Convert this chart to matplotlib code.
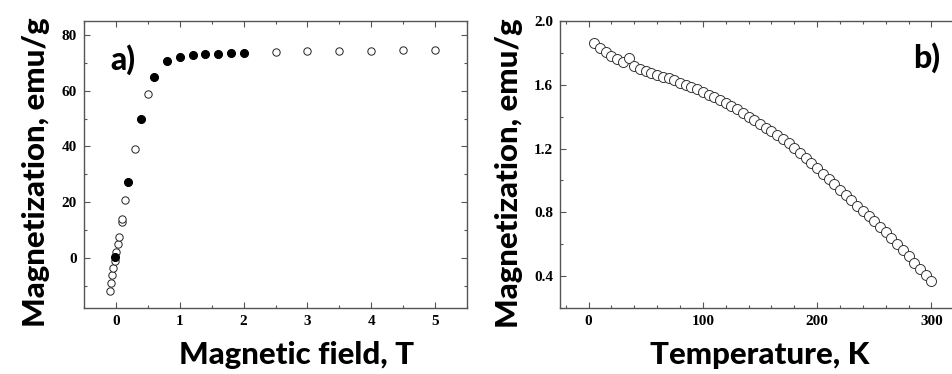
import numpy as np
import matplotlib
matplotlib.use('Agg')
import matplotlib.pyplot as plt
from matplotlib.ticker import MultipleLocator

# Panel a: magnetization vs field (open and filled points)
field_open = [-0.10, -0.08, -0.06, -0.04, -0.02, 0.00, 0.03, 0.05, 0.09, 0.10,
              0.15, 0.30, 0.50, 2.5, 3.0, 3.5, 4.0, 4.5, 5.0]
mag_open = [-12.0, -9.1, -6.2, -3.5, -1.0, 2.1, 4.8, 7.5, 13.0, 14.1,
            20.8, 38.9, 58.8, 74.0, 74.3, 74.3, 74.3, 74.5, 74.5]
field_filled = [-0.01, 0.19, 0.39, 0.60, 0.80, 1.0, 1.2, 1.4, 1.6, 1.8, 2.0]
mag_filled = [0.4, 27.1, 49.8, 65.0, 70.7, 72.0, 72.7, 73.1, 73.3, 73.5, 73.5]

# Panel b: magnetization vs temperature
temp = [5, 10, 15, 20, 25, 30, 35, 40, 45, 50, 55, 60, 65, 70, 75, 80, 85, 90, 95, 100,
        105, 110, 115, 120, 125, 130, 135, 140, 145, 150, 155, 160, 165, 170, 175, 180,
        185, 190, 195, 200, 205, 210, 215, 220, 225, 230, 235, 240, 245, 250, 255, 260,
        265, 270, 275, 280, 285, 290, 295, 300]
mag_t = [1.860, 1.828, 1.803, 1.780, 1.763, 1.744, 1.770, 1.719, 1.702, 1.688,
         1.673, 1.662, 1.651, 1.640, 1.628, 1.614, 1.600, 1.586, 1.571, 1.555,
         1.539, 1.524, 1.507, 1.487, 1.466, 1.445, 1.423, 1.401, 1.380, 1.356,
         1.332, 1.308, 1.284, 1.258, 1.232, 1.206, 1.172, 1.143, 1.110, 1.076,
         1.043, 1.010, 0.978, 0.943, 0.910, 0.875, 0.842, 0.810, 0.778, 0.745,
         0.711, 0.676, 0.640, 0.603, 0.565, 0.525, 0.484, 0.444, 0.406, 0.370]

label_font = dict(family='Lato', weight=900, size=22.5)
tick_font = dict(family='Liberation Serif', weight='bold', size=11)
spine_col = '#555555'


def style_axes(ax):
    for s in ax.spines.values():
        s.set_color(spine_col)
        s.set_linewidth(1.0)
    ax.tick_params(which='both', direction='in', top=True, right=True,
                   color=spine_col, width=0.8)
    ax.tick_params(which='major', length=4, pad=5)
    ax.tick_params(which='minor', length=2.5)
    for lab in ax.get_xticklabels() + ax.get_yticklabels():
        lab.set_fontfamily(tick_font['family'])
        lab.set_fontweight(tick_font['weight'])
        lab.set_fontsize(tick_font['size'])


fig = plt.figure(figsize=(9.52, 3.74), dpi=100)

# ---- panel a
ax1 = fig.add_axes([84/952, 66/374, 383/952, 287/374])
ax1.plot(field_open, mag_open, 'o', ms=5.3, mfc='white', mec='#222222', mew=0.7, ls='none')
ax1.plot(field_filled, mag_filled, 'o', ms=5.8, mfc='black', mec='black', mew=0.7, ls='none')
ax1.set_xlim(-0.5, 5.5)
ax1.set_ylim(-18, 85)
ax1.xaxis.set_major_locator(MultipleLocator(1))
ax1.xaxis.set_minor_locator(MultipleLocator(0.5))
ax1.yaxis.set_major_locator(MultipleLocator(20))
ax1.yaxis.set_minor_locator(MultipleLocator(10))
style_axes(ax1)
ax1.set_xlabel('Magnetic field, T', **label_font)
ax1.set_ylabel('Magnetization, emu/g', **label_font)
ax1.xaxis.set_label_coords(0.555, -0.115)
ax1.yaxis.set_label_coords(-0.089, 0.474)
ax1.text(0.068, 0.864, 'a)', transform=ax1.transAxes, ha='left', va='center',
         family='Lato', weight=900, size=23)

# ---- panel b
ax2 = fig.add_axes([560/952, 66/374, 400/952, 287/374])
ax2.plot(temp, mag_t, 'o', ms=7.2, mfc='white', mec='#333333', mew=0.7, ls='none')
ax2.set_xlim(-25, 325)
ax2.set_ylim(0.2, 2.0)
ax2.xaxis.set_major_locator(MultipleLocator(100))
ax2.xaxis.set_minor_locator(MultipleLocator(20))
ax2.yaxis.set_major_locator(MultipleLocator(0.4))
ax2.yaxis.set_minor_locator(MultipleLocator(0.2))
style_axes(ax2)
ax2.set_xlabel('Temperature, K', **label_font)
ax2.set_ylabel('Magnetization, emu/g', **label_font)
ax2.xaxis.set_label_coords(0.5, -0.115)
ax2.yaxis.set_label_coords(-0.0925, 0.47)
ax2.text(0.884, 0.873, 'b)', transform=ax2.transAxes, ha='left', va='center',
         family='Lato', weight=900, size=23)

fig.savefig('out.png', dpi=100)
